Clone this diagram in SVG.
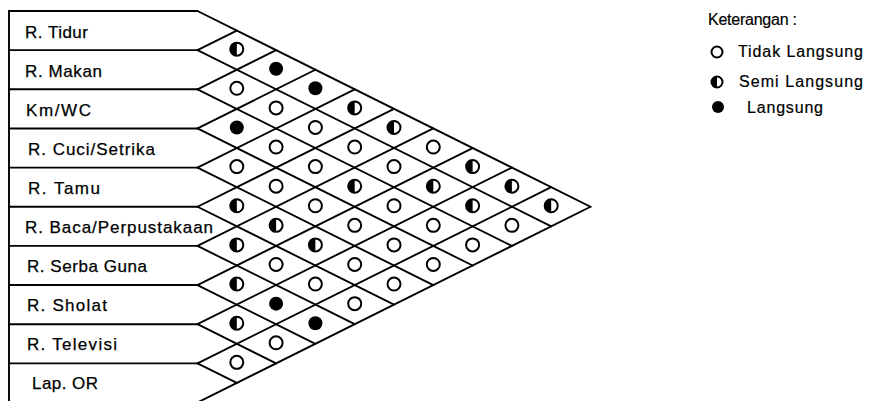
<svg xmlns="http://www.w3.org/2000/svg" xmlns:xlink="http://www.w3.org/1999/xlink" width="873" height="401" viewBox="0 0 873 401">
<style>
.ln{stroke:#000;stroke-width:1.9;fill:none;stroke-linecap:round}
.lbl{font-family:"Liberation Sans",Arial,sans-serif;font-size:17px;fill:#000;stroke:#000;stroke-width:0.25}
.leg{font-family:"Liberation Sans",Arial,sans-serif;font-size:16px;fill:#000;stroke:#000;stroke-width:0.2}
</style>
<defs>
<g id="O"><circle r="6.5" fill="#fff" stroke="#000" stroke-width="2"/></g>
<g id="H"><circle r="6.5" fill="#fff" stroke="#000" stroke-width="2"/><path d="M0,-6.5 A6.5,6.5 0 0 0 0,6.5 Z" fill="#000"/></g>
<g id="F"><circle r="7" fill="#000"/></g>
</defs>
<rect width="873" height="401" fill="#fff"/>

<g id="connectors" class="ln">
<line x1="9" y1="11" x2="9" y2="403"/>
<line x1="9" y1="11" x2="197.5" y2="11"/>
<line x1="9" y1="50.15" x2="197.5" y2="50.15"/>
<line x1="9" y1="89.3" x2="197.5" y2="89.3"/>
<line x1="9" y1="128.45" x2="197.5" y2="128.45"/>
<line x1="9" y1="167.6" x2="197.5" y2="167.6"/>
<line x1="9" y1="206.75" x2="197.5" y2="206.75"/>
<line x1="9" y1="245.9" x2="197.5" y2="245.9"/>
<line x1="9" y1="285.05" x2="197.5" y2="285.05"/>
<line x1="9" y1="324.2" x2="197.5" y2="324.2"/>
<line x1="9" y1="363.35" x2="197.5" y2="363.35"/>
<line x1="9" y1="402.5" x2="197.5" y2="402.5"/>
<line x1="197.5" y1="11" x2="590.5" y2="206.75"/>
<line x1="197.5" y1="50.15" x2="551.2" y2="226.33"/>
<line x1="197.5" y1="89.3" x2="511.9" y2="245.9"/>
<line x1="197.5" y1="128.45" x2="472.6" y2="265.48"/>
<line x1="197.5" y1="167.6" x2="433.3" y2="285.05"/>
<line x1="197.5" y1="206.75" x2="394" y2="304.63"/>
<line x1="197.5" y1="245.9" x2="354.7" y2="324.2"/>
<line x1="197.5" y1="285.05" x2="315.4" y2="343.78"/>
<line x1="197.5" y1="324.2" x2="276.1" y2="363.35"/>
<line x1="197.5" y1="363.35" x2="236.8" y2="382.93"/>
<line x1="197.5" y1="50.15" x2="236.8" y2="30.58"/>
<line x1="197.5" y1="89.3" x2="276.1" y2="50.15"/>
<line x1="197.5" y1="128.45" x2="315.4" y2="69.73"/>
<line x1="197.5" y1="167.6" x2="354.7" y2="89.3"/>
<line x1="197.5" y1="206.75" x2="394" y2="108.88"/>
<line x1="197.5" y1="245.9" x2="433.3" y2="128.45"/>
<line x1="197.5" y1="285.05" x2="472.6" y2="148.03"/>
<line x1="197.5" y1="324.2" x2="511.9" y2="167.6"/>
<line x1="197.5" y1="363.35" x2="551.2" y2="187.18"/>
<line x1="197.5" y1="402.5" x2="590.5" y2="206.75"/>
</g>

<g id="rows">
<g id="row-tidur"><text class="lbl" x="25" y="38" textLength="63">R. Tidur</text></g>
<g id="row-makan"><text class="lbl" x="25" y="77" textLength="77">R. Makan</text></g>
<g id="row-kmwc"><text class="lbl" x="26" y="116" textLength="65">Km/WC</text></g>
<g id="row-cuci"><text class="lbl" x="28" y="155" textLength="127">R. Cuci/Setrika</text></g>
<g id="row-tamu"><text class="lbl" x="28" y="194" textLength="72">R. Tamu</text></g>
<g id="row-baca"><text class="lbl" x="25" y="233" textLength="188">R. Baca/Perpustakaan</text></g>
<g id="row-serba"><text class="lbl" x="27" y="272" textLength="120">R. Serba Guna</text></g>
<g id="row-sholat"><text class="lbl" x="27" y="311" textLength="80">R. Sholat</text></g>
<g id="row-televisi"><text class="lbl" x="27" y="350" textLength="90">R. Televisi</text></g>
<g id="row-lapor"><text class="lbl" x="32" y="389" textLength="66">Lap. OR</text></g>
</g>

<g id="cells" transform="translate(0,-1)">
<use xlink:href="#H" x="236.8" y="50.15"/>
<use xlink:href="#O" x="236.8" y="89.3"/>
<use xlink:href="#F" x="236.8" y="128.45"/>
<use xlink:href="#O" x="236.8" y="167.6"/>
<use xlink:href="#H" x="236.8" y="206.75"/>
<use xlink:href="#H" x="236.8" y="245.9"/>
<use xlink:href="#H" x="236.8" y="285.05"/>
<use xlink:href="#H" x="236.8" y="324.2"/>
<use xlink:href="#O" x="236.8" y="363.35"/>

<use xlink:href="#F" x="276.1" y="69.73"/>
<use xlink:href="#O" x="276.1" y="108.88"/>
<use xlink:href="#O" x="276.1" y="148.03"/>
<use xlink:href="#O" x="276.1" y="187.18"/>
<use xlink:href="#H" x="276.1" y="226.33"/>
<use xlink:href="#O" x="276.1" y="265.48"/>
<use xlink:href="#F" x="276.1" y="304.63"/>
<use xlink:href="#O" x="276.1" y="343.78"/>

<use xlink:href="#F" x="315.4" y="89.3"/>
<use xlink:href="#O" x="315.4" y="128.45"/>
<use xlink:href="#O" x="315.4" y="167.6"/>
<use xlink:href="#O" x="315.4" y="206.75"/>
<use xlink:href="#H" x="315.4" y="245.9"/>
<use xlink:href="#O" x="315.4" y="285.05"/>
<use xlink:href="#F" x="315.4" y="324.2"/>

<use xlink:href="#H" x="354.7" y="108.88"/>
<use xlink:href="#O" x="354.7" y="148.03"/>
<use xlink:href="#H" x="354.7" y="187.18"/>
<use xlink:href="#O" x="354.7" y="226.33"/>
<use xlink:href="#O" x="354.7" y="265.48"/>
<use xlink:href="#O" x="354.7" y="304.63"/>

<use xlink:href="#H" x="394" y="128.45"/>
<use xlink:href="#O" x="394" y="167.6"/>
<use xlink:href="#O" x="394" y="206.75"/>
<use xlink:href="#O" x="394" y="245.9"/>
<use xlink:href="#O" x="394" y="285.05"/>

<use xlink:href="#O" x="433.3" y="148.03"/>
<use xlink:href="#H" x="433.3" y="187.18"/>
<use xlink:href="#O" x="433.3" y="226.33"/>
<use xlink:href="#O" x="433.3" y="265.48"/>

<use xlink:href="#H" x="472.6" y="167.6"/>
<use xlink:href="#H" x="472.6" y="206.75"/>
<use xlink:href="#O" x="472.6" y="245.9"/>

<use xlink:href="#H" x="511.9" y="187.18"/>
<use xlink:href="#O" x="511.9" y="226.33"/>

<use xlink:href="#H" x="551.2" y="206.75"/>
</g>

<g id="legend">
<text class="leg" x="708" y="25" textLength="89">Keterangan :</text>
<g transform="translate(717,52)"><circle r="5.5" fill="#fff" stroke="#000" stroke-width="2"/></g>
<text class="leg" x="738" y="57" textLength="125">Tidak Langsung</text>
<g transform="translate(717,82)"><circle r="5.5" fill="#fff" stroke="#000" stroke-width="2"/><path d="M0,-5.5 A5.5,5.5 0 0 0 0,5.5 Z" fill="#000"/></g>
<text class="leg" x="739" y="87" textLength="124">Semi Langsung</text>
<g transform="translate(718,107)"><circle r="6" fill="#000"/></g>
<text class="leg" x="747" y="113" textLength="76">Langsung</text>
</g>
</svg>
